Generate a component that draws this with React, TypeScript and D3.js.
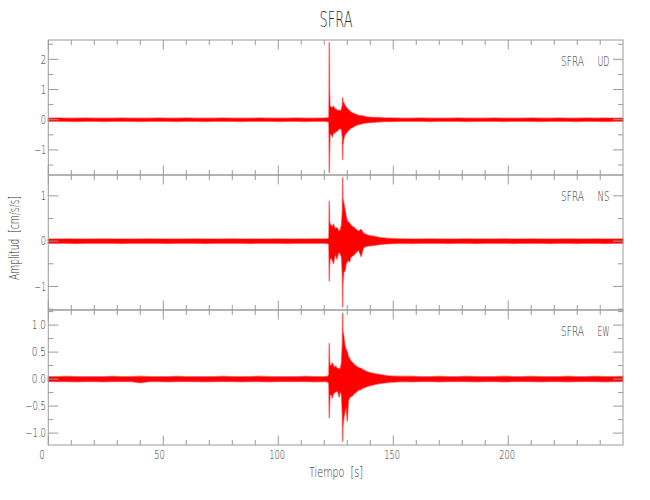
import React from 'react';
import * as d3 from 'd3';

// Time samples (s) of the min/max envelope
const TIMES = [
  0, 4, 8, 12, 16, 20, 24, 28, 32, 36, 40, 44, 48, 52, 56, 60, 64, 68, 72, 76, 80, 84, 88, 92, 96, 100, 104, 108, 112, 116, 120,
  121, 121.5, 122, 122.1, 122.2, 122.3, 122.5, 123, 123.5, 124, 124.5, 125, 125.5, 126, 126.5, 127, 127.5, 127.9, 128, 128.1,
  128.5, 129, 129.5, 130, 130.5, 131, 131.5, 132, 133, 134, 135, 136, 137, 138, 139, 140, 142, 144, 146, 148, 150,
  154, 158, 162, 166, 170, 174, 178, 182, 186, 190, 194, 198, 202, 206, 210, 214, 218, 222, 226, 230, 234, 238, 242, 246, 249.9,
];

const UD_MAX = [
  0.05, 0.055, 0.05, 0.05, 0.055, 0.05, 0.05, 0.05, 0.055, 0.05, 0.05, 0.05, 0.055, 0.05, 0.05, 0.055, 0.05, 0.05, 0.05, 0.055, 0.05, 0.05, 0.05, 0.055, 0.05, 0.05, 0.05, 0.055, 0.05, 0.05, 0.055,
  0.06, 0.06, 0.08, 1.0, 2.55, 0.95, 0.45, 0.42, 0.4, 0.45, 0.38, 0.35, 0.33, 0.3, 0.32, 0.28, 0.35, 0.5, 0.73, 0.62,
  0.55, 0.48, 0.42, 0.38, 0.33, 0.3, 0.26, 0.24, 0.2, 0.17, 0.14, 0.13, 0.12, 0.1, 0.09, 0.08, 0.075, 0.07, 0.06, 0.06, 0.055,
  0.05, 0.05, 0.055, 0.05, 0.05, 0.05, 0.055, 0.05, 0.05, 0.05, 0.055, 0.05, 0.05, 0.05, 0.055, 0.05, 0.05, 0.055, 0.05, 0.05, 0.055, 0.05, 0.055, 0.05, 0.05,
];
const UD_MIN = [
  -0.05, -0.05, -0.05, -0.055, -0.05, -0.05, -0.055, -0.05, -0.05, -0.05, -0.055, -0.05, -0.05, -0.05, -0.055, -0.05, -0.05, -0.055, -0.05, -0.05, -0.05, -0.055, -0.05, -0.05, -0.05, -0.055, -0.05, -0.05, -0.055, -0.05, -0.05,
  -0.06, -0.06, -0.08, -0.6, -1.75, -1.23, -0.5, -0.48, -0.57, -0.42, -0.45, -0.4, -0.38, -0.35, -0.3, -0.3, -0.32, -0.6, -1.32, -0.85,
  -0.62, -0.5, -0.45, -0.4, -0.36, -0.32, -0.28, -0.27, -0.22, -0.18, -0.16, -0.14, -0.12, -0.11, -0.1, -0.09, -0.08, -0.07, -0.06, -0.06, -0.055,
  -0.05, -0.05, -0.05, -0.055, -0.05, -0.05, -0.05, -0.055, -0.05, -0.05, -0.05, -0.055, -0.05, -0.05, -0.05, -0.055, -0.05, -0.05, -0.05, -0.055, -0.05, -0.05, -0.055, -0.05, -0.05,
];

const NS_MAX = [
  0.045, 0.045, 0.05, 0.045, 0.045, 0.045, 0.05, 0.045, 0.045, 0.045, 0.045, 0.05, 0.045, 0.045, 0.045, 0.045, 0.05, 0.045, 0.045, 0.045, 0.05, 0.045, 0.045, 0.045, 0.045, 0.05, 0.045, 0.045, 0.045, 0.05, 0.045,
  0.05, 0.05, 0.07, 0.5, 0.88, 0.45, 0.38, 0.35, 0.32, 0.38, 0.3, 0.28, 0.3, 0.25, 0.22, 0.25, 0.35, 0.7, 1.4, 0.95,
  0.85, 0.7, 0.55, 0.45, 0.42, 0.4, 0.36, 0.33, 0.3, 0.25, 0.22, 0.26, 0.18, 0.15, 0.13, 0.12, 0.1, 0.08, 0.07, 0.06, 0.055,
  0.05, 0.045, 0.045, 0.05, 0.045, 0.045, 0.045, 0.05, 0.045, 0.045, 0.045, 0.05, 0.045, 0.045, 0.05, 0.045, 0.045, 0.045, 0.05, 0.045, 0.045, 0.05, 0.045, 0.045, 0.05,
];
const NS_MIN = [
  -0.045, -0.045, -0.045, -0.05, -0.045, -0.045, -0.045, -0.045, -0.05, -0.045, -0.045, -0.045, -0.045, -0.05, -0.045, -0.045, -0.045, -0.05, -0.045, -0.045, -0.045, -0.045, -0.05, -0.045, -0.045, -0.045, -0.05, -0.045, -0.045, -0.045, -0.045,
  -0.05, -0.05, -0.07, -0.45, -0.88, -0.55, -0.4, -0.38, -0.42, -0.5, -0.35, -0.3, -0.4, -0.28, -0.25, -0.28, -0.35, -0.8, -1.45, -0.95,
  -0.68, -0.66, -0.5, -0.46, -0.42, -0.46, -0.36, -0.34, -0.3, -0.24, -0.2, -0.34, -0.15, -0.12, -0.11, -0.1, -0.09, -0.075, -0.065, -0.055, -0.05,
  -0.045, -0.05, -0.045, -0.045, -0.045, -0.05, -0.045, -0.045, -0.05, -0.045, -0.045, -0.045, -0.05, -0.045, -0.045, -0.045, -0.05, -0.045, -0.045, -0.05, -0.045, -0.045, -0.05, -0.045, -0.045,
];

const EW_MAX = [
  0.045, 0.045, 0.05, 0.045, 0.045, 0.045, 0.045, 0.05, 0.045, 0.045, 0.05, 0.045, 0.045, 0.045, 0.05, 0.045, 0.045, 0.045, 0.045, 0.05, 0.045, 0.045, 0.045, 0.05, 0.045, 0.045, 0.045, 0.045, 0.05, 0.045, 0.045,
  0.05, 0.05, 0.08, 0.4, 0.66, 0.35, 0.25, 0.25, 0.3, 0.25, 0.22, 0.24, 0.2, 0.2, 0.18, 0.2, 0.3, 0.7, 1.22, 0.9,
  0.8, 0.62, 0.55, 0.5, 0.42, 0.38, 0.34, 0.32, 0.27, 0.24, 0.21, 0.2, 0.17, 0.15, 0.13, 0.12, 0.1, 0.085, 0.07, 0.06, 0.055,
  0.05, 0.05, 0.045, 0.045, 0.05, 0.045, 0.045, 0.05, 0.045, 0.045, 0.045, 0.05, 0.045, 0.045, 0.05, 0.045, 0.045, 0.045, 0.05, 0.045, 0.045, 0.05, 0.045, 0.045, 0.05,
];
const EW_MIN = [
  -0.045, -0.045, -0.045, -0.05, -0.045, -0.045, -0.05, -0.045, -0.045, -0.045, -0.065, -0.045, -0.045, -0.05, -0.045, -0.045, -0.045, -0.05, -0.045, -0.045, -0.045, -0.05, -0.045, -0.045, -0.05, -0.045, -0.045, -0.045, -0.045, -0.05, -0.045,
  -0.05, -0.05, -0.08, -0.45, -0.72, -0.5, -0.3, -0.28, -0.35, -0.27, -0.25, -0.24, -0.22, -0.25, -0.33, -0.22, -0.3, -0.7, -1.15, -0.9,
  -0.72, -0.6, -0.52, -0.78, -0.4, -0.35, -0.32, -0.32, -0.27, -0.24, -0.2, -0.19, -0.16, -0.15, -0.13, -0.12, -0.1, -0.08, -0.07, -0.06, -0.055,
  -0.045, -0.05, -0.045, -0.045, -0.05, -0.045, -0.045, -0.045, -0.05, -0.045, -0.045, -0.05, -0.045, -0.045, -0.045, -0.05, -0.045, -0.045, -0.05, -0.045, -0.045, -0.045, -0.05, -0.045, -0.045,
];

const STATION = 'SFRA';
const CHANNELS = ['UD', 'NS', 'EW'];
const X_TICKS = [0, 50, 100, 150, 200];
const X_TITLE = 'Tiempo  [s]';
const Y_TITLE = 'Amplitud  [cm/s/s]';

const W = 650;
const H = 500;
const LEFT = 48.3;
const RIGHT = 623;
const TOPS = [40, 175, 310];
const PH = 135;
const AXIS = '#9a9a9a';
const TEXT = '#2a2a2a';
const FONT = "'DejaVu Sans', sans-serif";
const WEIGHT = 200;

const panels = [
  { name: CHANNELS[0], max: UD_MAX, min: UD_MIN, domain: [-1.83, 2.64], major: 1, minor: 0.5, dec: 0 },
  { name: CHANNELS[1], max: NS_MAX, min: NS_MIN, domain: [-1.52, 1.46], major: 1, minor: 0.5, dec: 0 },
  { name: CHANNELS[2], max: EW_MAX, min: EW_MIN, domain: [-1.22, 1.28], major: 0.5, minor: 0.25, dec: 1 },
];

function ticksIn(domain: number[], step: number) {
  const out: number[] = [];
  const start = Math.ceil(domain[0] / step - 1e-9);
  const end = Math.floor(domain[1] / step + 1e-9);
  for (let i = start; i <= end; i++) out.push(+(i * step).toFixed(6));
  return out;
}

function fmt(v: number, dec: number) {
  const s = Math.abs(v).toFixed(dec);
  return (v < 0 ? '\u2212' : '') + s;
}

// narrow label width (reference uses a condensed vector font)
function labelWidth(s: string) {
  let w = 0;
  for (const c of s) {
    if (c === '.') w += 3.6;
    else if (c === '\u2212') w += 6.5;
    else w += 5.3;
  }
  return w;
}

export default function App() {
  const x = d3.scaleLinear().domain([0, 249.9]).range([LEFT, RIGHT]);
  const xMinor = d3.range(0, 250, 10);

  return (
    <svg width={W} height={H} style={{ position: 'absolute', left: 0, top: 0, background: '#fff' }} fontFamily={FONT} fontWeight={WEIGHT}>
      <text x={336} y={27} fontSize={22} fill={TEXT} textAnchor="middle" textLength={33} lengthAdjust="spacingAndGlyphs">
        {STATION}
      </text>
      {panels.map((p, pi) => {
        const top = TOPS[pi];
        const bottom = top + PH;
        const y = d3.scaleLinear().domain(p.domain).range([bottom, top]);
        const area = d3
          .area<number>()
          .x((_, i) => x(TIMES[i]))
          .y0((_, i) => y(p.min[i]))
          .y1((_, i) => y(p.max[i]));
        const d = area(TIMES) || '';
        const majors = ticksIn(p.domain, p.major);
        const minors = ticksIn(p.domain, p.minor).filter((v) => !majors.some((m) => Math.abs(m - v) < 1e-6));
        return (
          <g key={p.name}>
            <path d={d} fill="#ff9a9a" stroke="#ffaaaa" strokeWidth={1.6} strokeLinejoin="round" />
            <path d={d} fill="#ff0000" stroke="#ff2020" strokeWidth={0.3} strokeLinejoin="round" />
            <rect x={LEFT} y={top} width={RIGHT - LEFT} height={PH} fill="none" stroke={AXIS} strokeWidth={1} />
            {xMinor.map((t) => {
              const len = t % 50 === 0 ? 9.5 : 5;
              return (
                <g key={'xt' + t}>
                  <line x1={x(t)} x2={x(t)} y1={top} y2={top + len} stroke={AXIS} />
                  <line x1={x(t)} x2={x(t)} y1={bottom} y2={bottom - len} stroke={AXIS} />
                </g>
              );
            })}
            {majors.map((v) => {
              const s = fmt(v, p.dec);
              return (
                <g key={'ym' + v}>
                  <line x1={LEFT} x2={LEFT + 10} y1={y(v)} y2={y(v)} stroke={AXIS} />
                  <line x1={RIGHT} x2={RIGHT - 10} y1={y(v)} y2={y(v)} stroke={AXIS} />
                  <text x={46} y={y(v) + 4.3} fontSize={12} fill={TEXT} textAnchor="end" textLength={labelWidth(s)} lengthAdjust="spacingAndGlyphs">
                    {s}
                  </text>
                </g>
              );
            })}
            {minors.map((v) => (
              <g key={'yn' + v}>
                <line x1={LEFT} x2={LEFT + 5} y1={y(v)} y2={y(v)} stroke={AXIS} />
                <line x1={RIGHT} x2={RIGHT - 5} y1={y(v)} y2={y(v)} stroke={AXIS} />
              </g>
            ))}
            <text x={561} y={top + 26} fontSize={14} fill={TEXT} textLength={23} lengthAdjust="spacingAndGlyphs">
              {STATION}
            </text>
            <text x={609.5} y={top + 26} fontSize={14} fill={TEXT} textAnchor="end" textLength={12} lengthAdjust="spacingAndGlyphs">
              {p.name}
            </text>
          </g>
        );
      })}
      {X_TICKS.map((t) => {
        const s = String(t);
        return (
          <text key={'xl' + t} x={x(t) - 9} y={458.5} fontSize={12} fill={TEXT} textLength={labelWidth(s)} lengthAdjust="spacingAndGlyphs">
            {s}
          </text>
        );
      })}
      <text x={336} y={477} fontSize={14} fill={TEXT} textAnchor="middle" textLength={54} lengthAdjust="spacingAndGlyphs" style={{ whiteSpace: 'pre' }}>
        {X_TITLE}
      </text>
      <text
        transform={`translate(19,238) rotate(-90)`}
        fontSize={14}
        fill={TEXT}
        textAnchor="middle"
        textLength={84}
        lengthAdjust="spacingAndGlyphs"
        style={{ whiteSpace: 'pre' }}
      >
        {Y_TITLE}
      </text>
    </svg>
  );
}
